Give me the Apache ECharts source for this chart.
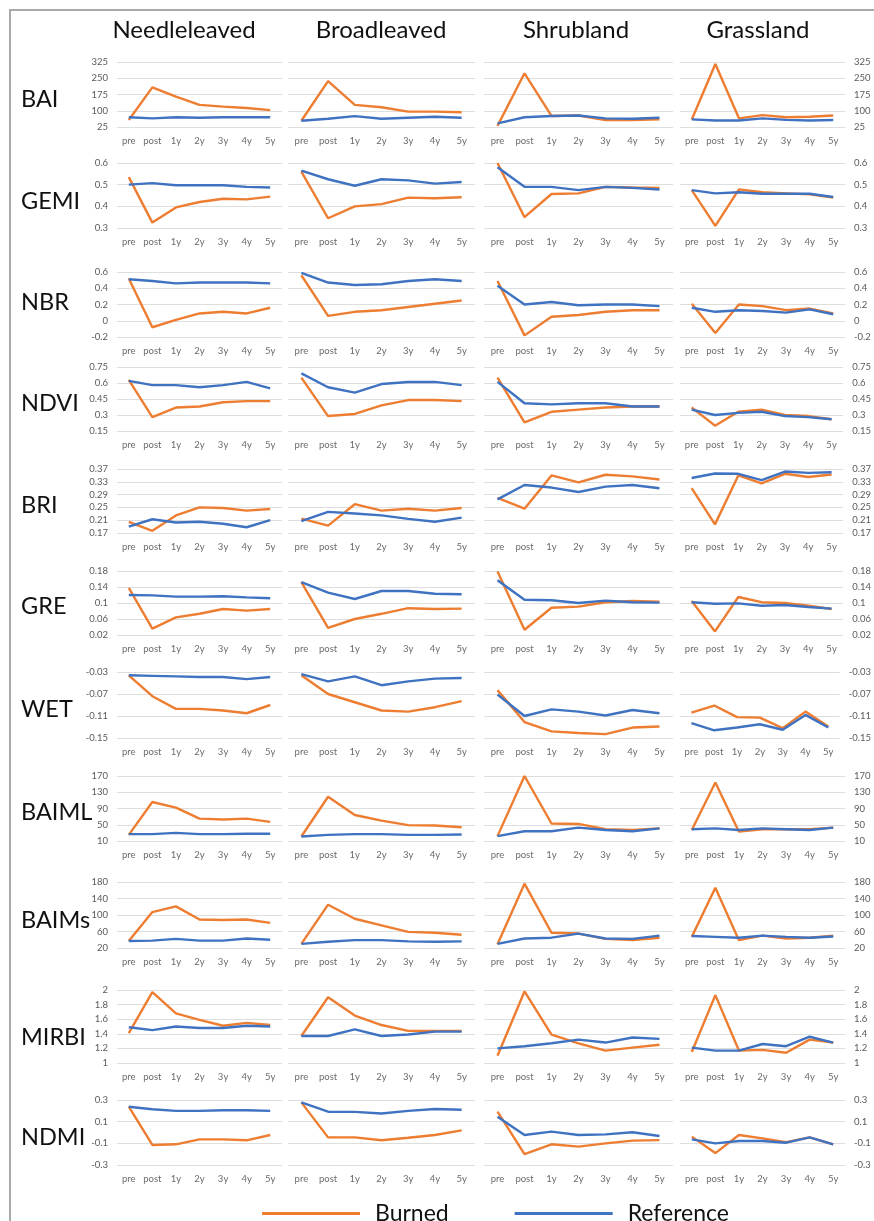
<!DOCTYPE html>
<html><head><meta charset="utf-8">
<script src="https://cdn.jsdelivr.net/npm/echarts@6/dist/echarts.min.js"></script>
<style>html,body{margin:0;padding:0;background:#fff}#c{width:874px;height:1221px}</style>
</head><body><div id="c"></div>
<script>
// ---------- data ----------
const categories = ['pre','post','1y','2y','3y','4y','5y'];
const landCovers = ['Needleleaved','Broadleaved','Shrubland','Grassland'];
const indices = ['BAI','GEMI','NBR','NDVI','BRI','GRE','WET','BAIML','BAIMs','MIRBI','NDMI'];

const ticks_BAI   = [25,100,175,250,325];
const ticks_GEMI  = [0.3,0.4,0.5,0.6];
const ticks_NBR   = [-0.2,0,0.2,0.4,0.6];
const ticks_NDVI  = [0.15,0.3,0.45,0.6,0.75];
const ticks_BRI   = [0.17,0.21,0.25,0.29,0.33,0.37];
const ticks_GRE   = [0.02,0.06,0.1,0.14,0.18];
const ticks_WET   = [-0.15,-0.11,-0.07,-0.03];
const ticks_BAIML = [10,50,90,130,170];
const ticks_BAIMs = [20,60,100,140,180];
const ticks_MIRBI = [1,1.2,1.4,1.6,1.8,2];
const ticks_NDMI  = [-0.3,-0.1,0.1,0.3];

// each: [Needleleaved, Broadleaved, Shrubland, Grassland]
const burned_BAI = [[57,208,165,127,119,113,103],[54,237,127,116,96,96,93],[30,273,76,78,57,57,60],[60,316,65,80,70,72,78]];
const reference_BAI = [[70,65,70,68,70,70,70],[54,63,75,63,68,72,68],[42,70,76,78,65,63,68],[60,55,55,65,58,55,57]];

const burned_GEMI = [[0.535,0.325,0.395,0.42,0.435,0.432,0.445],[0.56,0.345,0.40,0.41,0.44,0.437,0.442],[0.60,0.35,0.457,0.46,0.49,0.487,0.485],[0.475,0.31,0.478,0.465,0.46,0.455,0.44]];
const reference_GEMI = [[0.5,0.507,0.497,0.497,0.497,0.49,0.487],[0.565,0.525,0.495,0.525,0.52,0.505,0.512],[0.58,0.49,0.49,0.475,0.49,0.485,0.478],[0.475,0.46,0.465,0.458,0.458,0.458,0.443]];

const burned_NBR = [[0.52,-0.08,0.01,0.09,0.11,0.09,0.16],[0.56,0.06,0.11,0.13,0.17,0.21,0.25],[0.49,-0.18,0.05,0.07,0.11,0.13,0.13],[0.21,-0.15,0.20,0.18,0.13,0.15,0.09]];
const reference_NBR = [[0.51,0.49,0.46,0.47,0.47,0.47,0.46],[0.59,0.47,0.44,0.45,0.49,0.51,0.49],[0.43,0.20,0.23,0.19,0.20,0.20,0.18],[0.16,0.11,0.13,0.12,0.10,0.14,0.08]];

const burned_NDVI = [[0.63,0.28,0.37,0.38,0.42,0.43,0.43],[0.65,0.29,0.31,0.39,0.44,0.44,0.43],[0.65,0.23,0.33,0.35,0.37,0.38,0.38],[0.37,0.20,0.33,0.35,0.30,0.29,0.26]];
const reference_NDVI = [[0.62,0.58,0.58,0.56,0.58,0.61,0.55],[0.69,0.56,0.51,0.59,0.61,0.61,0.58],[0.61,0.41,0.40,0.41,0.41,0.38,0.38],[0.35,0.30,0.32,0.33,0.29,0.28,0.26]];

const burned_BRI = [[0.205,0.177,0.225,0.25,0.248,0.24,0.245],[0.215,0.193,0.26,0.24,0.246,0.24,0.248],[0.28,0.246,0.35,0.328,0.352,0.347,0.337],[0.31,0.197,0.35,0.325,0.355,0.345,0.353]];
const reference_BRI = [[0.19,0.213,0.203,0.205,0.199,0.188,0.21],[0.207,0.236,0.231,0.225,0.214,0.205,0.218],[0.275,0.32,0.312,0.298,0.315,0.32,0.31],[0.342,0.356,0.355,0.335,0.362,0.358,0.36]];

const burned_GRE = [[0.138,0.036,0.064,0.073,0.085,0.081,0.085],[0.152,0.038,0.06,0.073,0.087,0.085,0.086],[0.179,0.033,0.088,0.091,0.102,0.105,0.103],[0.105,0.029,0.115,0.102,0.100,0.093,0.085]];
const reference_GRE = [[0.12,0.119,0.116,0.116,0.117,0.114,0.112],[0.152,0.126,0.11,0.13,0.13,0.123,0.122],[0.157,0.108,0.107,0.1,0.106,0.102,0.101],[0.102,0.098,0.099,0.093,0.095,0.09,0.086]];

const burned_WET = [[-0.036,-0.074,-0.097,-0.097,-0.1,-0.105,-0.09],[-0.036,-0.07,-0.085,-0.1,-0.102,-0.094,-0.083],[-0.063,-0.121,-0.138,-0.141,-0.143,-0.131,-0.129],[-0.104,-0.091,-0.112,-0.113,-0.132,-0.102,-0.129]];
const reference_WET = [[-0.036,-0.037,-0.038,-0.039,-0.039,-0.043,-0.039],[-0.034,-0.047,-0.038,-0.054,-0.047,-0.042,-0.041],[-0.071,-0.11,-0.098,-0.102,-0.109,-0.099,-0.105],[-0.123,-0.136,-0.131,-0.125,-0.135,-0.108,-0.131]];

const burned_BAIML = [[25,106,92,65,63,65,57],[21,119,74,60,49,48,44],[22,170,53,52,39,37,41],[37,154,33,39,39,39,43]];
const reference_BAIML = [[27,27,30,27,27,28,28],[21,25,27,27,25,25,26],[22,34,34,43,37,34,41],[39,41,37,41,39,37,43]];

const burned_BAIMs = [[37,107,121,89,88,89,81],[30,125,91,75,59,57,52],[29,176,57,55,42,39,45],[47,166,39,50,43,45,50]];
const reference_BAIMs = [[37,38,42,38,38,43,40],[30,35,39,39,36,35,36],[30,43,45,55,43,42,50],[49,47,45,50,47,45,48]];

const burned_MIRBI = [[1.41,1.97,1.68,1.59,1.51,1.55,1.52],[1.37,1.9,1.65,1.52,1.44,1.44,1.44],[1.10,1.98,1.39,1.27,1.17,1.21,1.25],[1.15,1.93,1.17,1.18,1.14,1.32,1.28]];
const reference_MIRBI = [[1.49,1.45,1.5,1.48,1.48,1.51,1.5],[1.37,1.37,1.46,1.37,1.39,1.43,1.43],[1.2,1.23,1.27,1.32,1.28,1.35,1.33],[1.21,1.17,1.17,1.26,1.23,1.36,1.28]];

const burned_NDMI = [[0.238,-0.115,-0.109,-0.063,-0.063,-0.072,-0.023],[0.278,-0.045,-0.045,-0.072,-0.048,-0.023,0.02],[0.192,-0.2,-0.109,-0.13,-0.1,-0.075,-0.07],[-0.038,-0.19,-0.023,-0.054,-0.09,-0.045,-0.109]];
const reference_NDMI = [[0.238,0.214,0.2,0.2,0.205,0.205,0.2],[0.278,0.192,0.19,0.175,0.2,0.217,0.21],[0.146,-0.023,0.008,-0.023,-0.017,0.002,-0.032],[-0.063,-0.1,-0.078,-0.078,-0.094,-0.045,-0.109]];

// ---------- assembly ----------
const ticksBy = {BAI:ticks_BAI,GEMI:ticks_GEMI,NBR:ticks_NBR,NDVI:ticks_NDVI,BRI:ticks_BRI,GRE:ticks_GRE,WET:ticks_WET,BAIML:ticks_BAIML,BAIMs:ticks_BAIMs,MIRBI:ticks_MIRBI,NDMI:ticks_NDMI};
const burnedBy = {BAI:burned_BAI,GEMI:burned_GEMI,NBR:burned_NBR,NDVI:burned_NDVI,BRI:burned_BRI,GRE:burned_GRE,WET:burned_WET,BAIML:burned_BAIML,BAIMs:burned_BAIMs,MIRBI:burned_MIRBI,NDMI:burned_NDMI};
const refBy = {BAI:reference_BAI,GEMI:reference_GEMI,NBR:reference_NBR,NDVI:reference_NDVI,BRI:reference_BRI,GRE:reference_GRE,WET:reference_WET,BAIML:reference_BAIML,BAIMs:reference_BAIMs,MIRBI:reference_MIRBI,NDMI:reference_NDMI};

// layout (pixels)
const rowTops = [62,163,272,367,469,571,672,776,882,990,1100];
const rowHeights = [65,65,65,64,64,64,66,65,66,73,65];
const rowLabelY = [99,201,302,403,505,606,709,812,920,1037,1137];
const colLefts = [117,288,484,680];
const colWidths = [165,187,189,165];
const colTitleX = [184,381,576,758];

const FONT = 'Lato, "Open Sans", sans-serif';
const ORANGE = '#ED7D31', BLUE = '#3F72C1';

const grids = [], xAxes = [], yAxes = [], series = [], titles = [];
landCovers.forEach((lc,c)=>titles.push({text:lc,left:colTitleX[c],top:18,padding:0,textAlign:'center',
  textStyle:{fontFamily:FONT,fontSize:24,fontWeight:'normal',color:'#111'}}));
indices.forEach((ix,r)=>titles.push({text:ix,left:21,top:rowLabelY[r]-12,padding:0,
  textStyle:{fontFamily:FONT,fontSize:23.5,fontWeight:'normal',color:'#111'}}));

indices.forEach((ix,r)=>{
  const t = ticksBy[ix];
  landCovers.forEach((lc,c)=>{
    const gi = grids.length;
    grids.push({left:colLefts[c],top:rowTops[r],width:colWidths[c],height:rowHeights[r]});
    xAxes.push({type:'category',gridIndex:gi,data:categories,boundaryGap:true,
      axisLine:{show:false},axisTick:{show:false},
      axisLabel:{interval:0,margin:9,fontSize:9.5,color:'#6b6b6b',fontFamily:FONT}});
    const showLabels = (c===0||c===3);
    yAxes.push({type:'value',gridIndex:gi,position:c===3?'right':'left',
      min:t[0],max:t[t.length-1],interval:+(t[1]-t[0]).toFixed(6),
      axisLine:{show:false},axisTick:{show:false},
      splitLine:{lineStyle:{color:'#dedede',width:1}},
      axisLabel:{show:showLabels,margin:9,fontSize:9.5,color:'#5a5a5a',fontFamily:FONT,
        formatter:v=>String(parseFloat((+v).toFixed(4)))}});
    series.push({name:'Burned',type:'line',xAxisIndex:gi,yAxisIndex:gi,data:burnedBy[ix][c],
      showSymbol:false,symbol:'none',lineStyle:{color:ORANGE,width:2.4},itemStyle:{color:ORANGE}});
    series.push({name:'Reference',type:'line',xAxisIndex:gi,yAxisIndex:gi,data:refBy[ix][c],
      showSymbol:false,symbol:'none',lineStyle:{color:BLUE,width:2.4},itemStyle:{color:BLUE}});
  });
});

const chart = echarts.init(document.getElementById('c'),null,{renderer:'canvas'});
chart.setOption({
  animation:false,
  backgroundColor:'#fff',
  title:titles,
  grid:grids, xAxis:xAxes, yAxis:yAxes, series:series,
  legend:{data:['Burned','Reference'],left:257,top:1197,icon:'rect',itemWidth:98,itemHeight:3,itemGap:66,
    textStyle:{fontFamily:FONT,fontSize:23,color:'#111',padding:[0,0,0,10]}},
  graphic:[{type:'rect',shape:{x:10,y:10,width:900,height:1260},
    style:{fill:'none',stroke:'#a9a9a9',lineWidth:2},silent:true}]
});
</script></body></html>
